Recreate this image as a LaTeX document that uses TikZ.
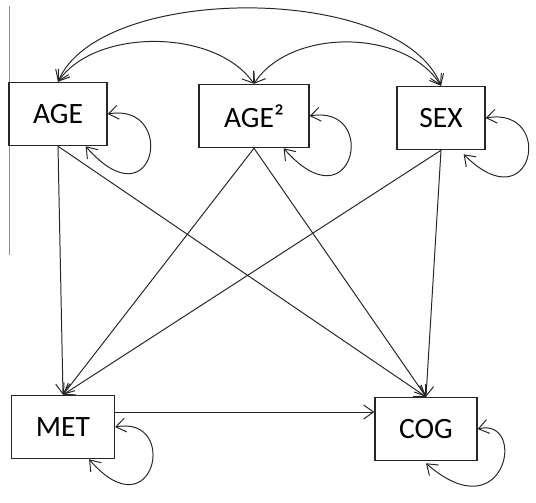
\documentclass[tikz,border=0pt]{standalone}
\usepackage{fontspec}
\setmainfont{Carlito}
\usepackage{tikz}
\usetikzlibrary{arrows.meta}

\begin{document}
\begin{tikzpicture}[x=0.025cm, y=-0.025cm,
    var/.style={rectangle, draw=black!85, line width=0.9pt, minimum height=1.58cm,
        font=\fontsize{21}{25}\selectfont, inner sep=0pt},
    arr/.style={-{Straight Barb[length=7pt,width=10pt]}, line width=0.7pt, black!85},
    dbl/.style={{Straight Barb[length=7pt,width=10pt]}-{Straight Barb[length=7pt,width=10pt]}, line width=0.7pt, black!85}
]
\useasboundingbox (0,0) rectangle (536,502);
\draw[black!45, line width=0.7pt] (9,6) -- (9,255);

\node[var, minimum width=2.45cm] (age) at (58,114) {AGE};
\node[var, minimum width=2.75cm] (agesq) at (254,116) {AGE²};
\node[var, minimum width=2.2cm] (sex) at (441,118) {SEX};
\node[var, minimum width=2.57cm] (met) at (63,427) {MET};
\node[var, minimum width=2.55cm] (cog) at (426,429) {COG};

% covariances
\draw[dbl] (age.north) .. controls (100,-17) and (400,-17) .. (sex.north);
\draw[dbl] (age.north) .. controls (95,28) and (215,28) .. (agesq.north);
\draw[dbl] (agesq.north) .. controls (290,28) and (405,28) .. (sex.north);

% paths
\draw[arr] (age.south) -- (met.north);
\draw[arr] (age.south) -- (cog.north);
\draw[arr] (agesq.south) -- (met.north);
\draw[arr] (agesq.south) -- (cog.north);
\draw[arr] (sex.south) -- (met.north);
\draw[arr] (sex.south) -- (cog.north);
\draw[arr] (met.east |- 0,412) -- (cog.west |- 0,412);

% variances
\draw[dbl] (age.east) .. controls +(70,-12) and +(70,80) .. ([xshift=-0.55cm]age.south east);
\draw[dbl] (agesq.east) .. controls +(70,-12) and +(70,80) .. ([xshift=-0.65cm]agesq.south east);
\draw[dbl] (sex.east) .. controls +(70,-12) and +(70,70) .. ([xshift=-0.55cm, yshift=-0.1cm]sex.south east);
\draw[dbl] (met.east) .. controls +(65,-12) and +(65,75) .. ([xshift=-0.65cm]met.south east);
\draw[dbl] (cog.east) .. controls +(50,-12) and +(80,70) .. ([yshift=-0.05cm]cog.south);
\end{tikzpicture}
\end{document}
